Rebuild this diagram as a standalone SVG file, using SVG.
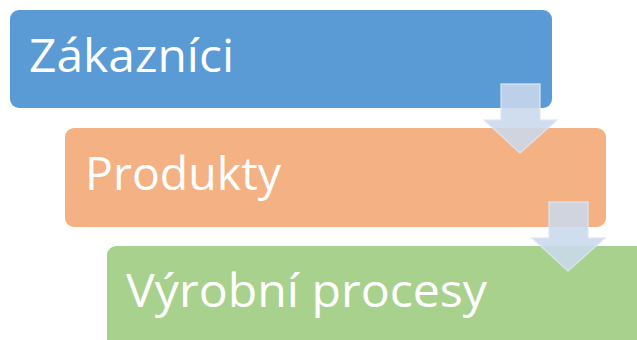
<svg xmlns="http://www.w3.org/2000/svg" width="637" height="340" viewBox="0 0 637 340">
  <style>
    .box-label { font-family: "Open Sans", "Liberation Sans", sans-serif; font-size: 46px; fill: #FFFFFF; }
    .flow-arrow { fill: #CAD8EC; fill-opacity: 0.88; stroke: #DDE6F2; stroke-opacity: 0.8; stroke-width: 1.5; stroke-linejoin: miter; }
  </style>
  <rect width="637" height="340" fill="#FFFFFF"/>

  <g id="node-zakaznici">
    <rect x="10" y="10" width="542" height="98" rx="9" ry="9" fill="#5B9BD5"/>
    <text class="box-label" x="29" y="72" textLength="205" lengthAdjust="spacingAndGlyphs">Zákazníci</text>
  </g>

  <g id="node-produkty">
    <rect x="65" y="128" width="541" height="99" rx="9" ry="9" fill="#F4B183"/>
    <text class="box-label" x="85" y="190" textLength="196" lengthAdjust="spacingAndGlyphs">Produkty</text>
  </g>

  <g id="node-vyrobni-procesy">
    <rect x="107" y="246" width="545" height="110" rx="9" ry="9" fill="#A9D18E"/>
    <text class="box-label" x="126" y="307" textLength="361" lengthAdjust="spacingAndGlyphs">Výrobní procesy</text>
  </g>

  <g id="connectors">
    <polygon class="flow-arrow" points="501,84 540,84 540,120 557,120 520,153 484,120 501,120"/>
    <polygon class="flow-arrow" points="549,202 588,202 588,238 605,238 568,271 532,238 549,238"/>
  </g>
</svg>
